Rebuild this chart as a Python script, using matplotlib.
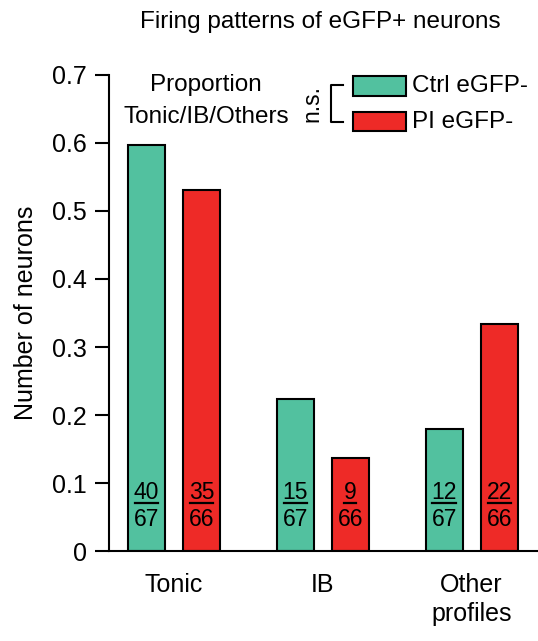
import numpy as np
import matplotlib
matplotlib.use("Agg")
import matplotlib.pyplot as plt
from matplotlib.patches import Rectangle

# data
categories = ["Tonic", "IB", "Other\nprofiles"]
ctrl_counts = [40, 15, 12]
ctrl_total = 67
pi_counts = [35, 9, 22]
pi_total = 66
series_names = ["Ctrl eGFP-", "PI eGFP-"]
green = "#52C19F"
red = "#EE2A27"

plt.rcParams["font.family"] = ["Liberation Sans", "DejaVu Sans"]

fig = plt.figure(figsize=(5.38, 6.41), dpi=100)
ax = fig.add_axes([0.2026, 0.1404, 0.7974, 0.7426])

x = np.arange(len(categories))
w = 0.248
off = 0.185
ctrl = np.array(ctrl_counts) / ctrl_total
pi = np.array(pi_counts) / pi_total

ax.bar(x - off, ctrl, w, color=green, edgecolor="black", linewidth=1.5)
ax.bar(x + off, pi, w, color=red, edgecolor="black", linewidth=1.5)

# fractions inside bars
for xs, counts, tot in [(x - off, ctrl_counts, ctrl_total), (x + off, pi_counts, pi_total)]:
    for xi, c in zip(xs, counts):
        ax.text(xi, 0.0853, str(c), ha="center", va="center", fontsize=16.5)
        ax.text(xi, 0.0456, str(tot), ha="center", va="center", fontsize=16.5)
        hw = 0.039 * len(str(c))
        ax.plot([xi - hw, xi + hw], [0.0706, 0.0706], color="black", lw=1.6)

ax.set_xlim(-0.436, 2.446)
ax.set_ylim(0, 0.7)
ax.set_yticks(np.arange(0, 0.71, 0.1))
ax.set_yticklabels(["0"] + [f"{v:.1f}" for v in np.arange(0.1, 0.71, 0.1)])
ax.set_xticks(x)
ax.set_xticklabels(categories, fontsize=18)
for lab in ax.get_xticklabels():
    lab.set_linespacing(1.25)
ax.tick_params(axis="x", length=0, pad=16)
ax.tick_params(axis="y", labelsize=18, width=1.5, length=10, direction="out", pad=6)
ax.set_ylabel("Number of neurons", fontsize=18)
ax.yaxis.set_label_coords(-0.165, 0.5)
for s in ["top", "right"]:
    ax.spines[s].set_visible(False)
ax.spines["left"].set_linewidth(1.5)
ax.spines["bottom"].set_linewidth(1.5)

fig.text(0.595, 0.966, "Firing patterns of eGFP+ neurons", ha="center", va="center", fontsize=17.5)

# annotation and legend
ax.text(0.226, 0.979, "Proportion", transform=ax.transAxes, ha="center", va="center", fontsize=17.5)
ax.text(0.226, 0.912, "Tonic/IB/Others", transform=ax.transAxes, ha="center", va="center", fontsize=17.5)
ax.text(0.473, 0.941, "n.s.", transform=ax.transAxes, ha="center", va="center", fontsize=16.5, rotation=90)
ax.plot([0.545, 0.517, 0.517, 0.545], [0.979, 0.979, 0.901, 0.901], transform=ax.transAxes,
        color="black", lw=1.5, clip_on=False)
for y0, col, name in [(0.956, green, series_names[0]), (0.882, red, series_names[1])]:
    ax.add_patch(Rectangle((0.569, y0), 0.124, 0.041, transform=ax.transAxes, facecolor=col,
                           edgecolor="black", lw=1.5, clip_on=False))
    ax.text(0.707, y0 + 0.02, name, transform=ax.transAxes, ha="left", va="center", fontsize=17.5)

fig.savefig("out.png", dpi=100)
